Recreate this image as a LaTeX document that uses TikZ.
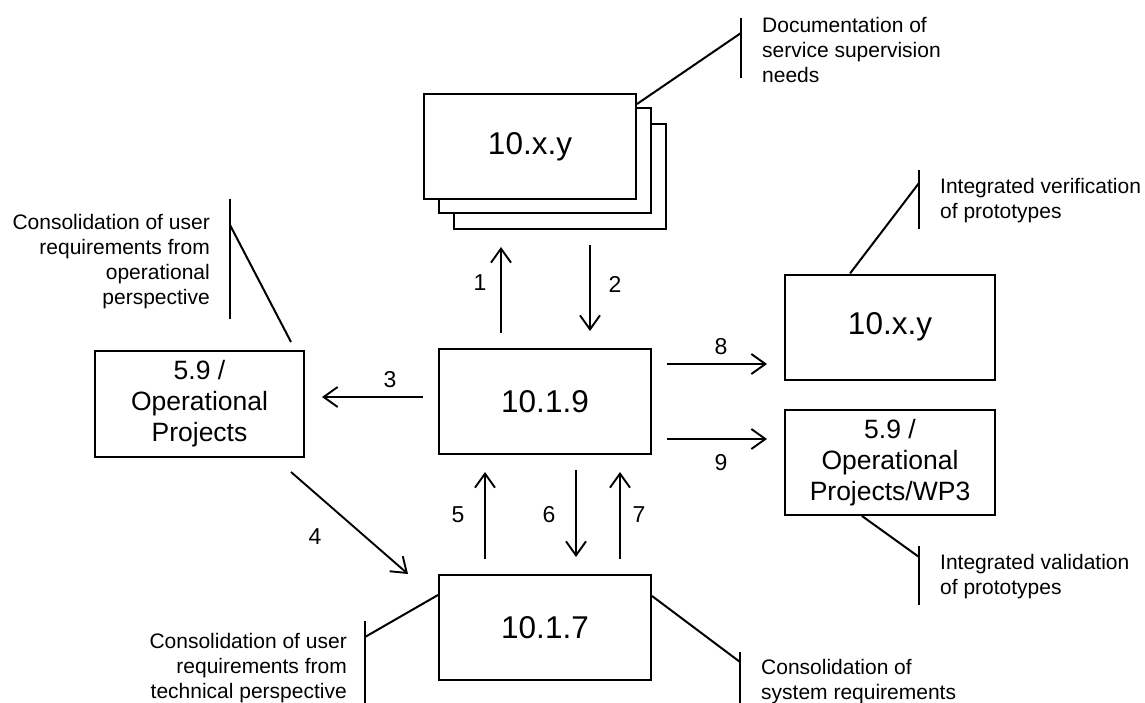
\documentclass[tikz,border=0pt]{standalone}
\usepackage{fontspec}
\setmainfont{Liberation Sans}
\usetikzlibrary{arrows.meta}

\begin{document}
\begin{tikzpicture}[x=1pt,y=-1pt,
    box/.style={draw, line width=2pt, fill=white, minimum width=212pt, minimum height=105pt,
        align=center, font=\fontsize{26.5}{31}\selectfont},
    bignum/.style={font=\fontsize{31.5}{36}\selectfont},
    flow/.style={line width=1.9pt, -{Straight Barb[length=14pt,width=20pt]}},
    gap/.style={shorten <=15pt, shorten >=17pt},
    num/.style={font=\fontsize{23}{26}\selectfont},
    note/.style={line width=2pt},
    notetext/.style={font=\fontsize{21}{25}\selectfont, inner sep=0pt}]
        \useasboundingbox (0,0) rectangle (1145,703);

        % Draw the stack of tasks
        \node[box] (stackC) at (560,176.5) {};
        \node[box] (stackB) at (545,161) {};
        \node[box, bignum] (stackA) at (530,146.5) {10.x.y};

        % Draw the work packages
        \node[box, bignum] (b109) at (545,401.5) {10.1.9};
        \node[box, bignum] (b107) at (545,627.5) {10.1.7};
        \node[box, minimum width=209pt, minimum height=106pt] (op) at (199.5,404) {5.9 /\\Operational\\Projects};
        \node[box, bignum, minimum width=210pt] (verify) at (890,327) {10.x.y};
        \node[box, minimum width=210pt] (valid) at (890,462.5) {5.9 /\\Operational\\Projects/WP3};

        % Draw the flows
        \draw[flow, gap] ([xshift=-44pt]b109.north) -- ([xshift=-59pt]stackC.south)
            node[num, midway, xshift=-21pt, yshift=6pt] (n1) {1};
        \draw[flow, gap] ([xshift=30pt]stackC.south) -- ([xshift=45pt]b109.north)
            node[num, midway, xshift=25pt, yshift=5pt] (n2) {2};
        \draw[flow, gap] ([yshift=4.5pt]b109.west) -- ([yshift=7pt]op.east)
            node[num, midway, xshift=18.5pt, yshift=17pt] (n3) {3};
        \draw[flow] ([xshift=-14pt,yshift=-14pt]op.south east) -- ([xshift=-30pt]b107.north west)
            node[num, midway, xshift=-34.5pt, yshift=-14pt] (n4) {4};
        \draw[flow, gap] ([xshift=-60pt]b107.north) -- ([xshift=-60pt]b109.south)
            node[num, midway, xshift=-27pt] (n5) {5};
        \draw[flow, gap] ([xshift=31pt]b109.south) -- ([xshift=31pt]b107.north)
            node[num, midway, xshift=-27pt] (n6) {6};
        \draw[flow, gap] ([xshift=75pt]b107.north) -- ([xshift=75pt]b109.south)
            node[num, midway, xshift=19pt] (n7) {7};
        \draw[flow, gap] ([yshift=37.5pt]b109.east) -- ([yshift=-37pt]verify.west)
            node[num, midway, xshift=3pt, yshift=17pt] (n8) {8};
        \draw[flow, gap] ([yshift=-37.5pt]b109.east) -- ([yshift=23.5pt]valid.west)
            node[num, midway, xshift=3pt, yshift=-24pt] (n9) {9};

        % Notes on the tasks
        \node[notetext, anchor=west, align=left] (docnote) at (762,50) {Documentation of\\service supervision\\needs};
        \coordinate (doctop) at (741,18);
        \coordinate (docbot) at (741,78);
        \coordinate (docjoin) at (741,33);
        \draw[note] (doctop) -- (docbot);
        \draw[note] ([yshift=-11pt]stackA.north east) -- (docjoin);

        \node[notetext, anchor=east, align=right] (opnote) at (210,262) {Consolidation of user\\requirements from\\operational\\perspective};
        \coordinate (optop) at (230,199);
        \coordinate (opbot) at (230,319);
        \coordinate (opjoin) at (230,225);
        \draw[note] (optop) -- (opbot);
        \draw[note] ([xshift=-14pt,yshift=8pt]op.north east) -- (opjoin);

        \node[notetext, anchor=west, align=left] (verifynote) at (940,201) {Integrated verification\\of prototypes};
        \coordinate (verifytop) at (919,170);
        \coordinate (verifybot) at (919,229);
        \coordinate (verifyjoin) at (919,183);
        \draw[note] (verifytop) -- (verifybot);
        \draw[note] ([xshift=-40pt]verify.north) -- (verifyjoin);

        \node[notetext, anchor=west, align=left] (validnote) at (940,577) {Integrated validation\\of prototypes};
        \coordinate (validtop) at (919,546);
        \coordinate (validbot) at (919,605);
        \coordinate (validjoin) at (919,557);
        \draw[note] (validtop) -- (validbot);
        \draw[note] ([xshift=-28pt]valid.south) -- (validjoin);

        \node[notetext, anchor=east, align=right] (technote) at (347,668) {Consolidation of user\\requirements from\\technical perspective};
        \coordinate (techtop) at (365,621);
        \coordinate (techbot) at (365,703);
        \coordinate (techjoin) at (365,637);
        \draw[note] (techtop) -- (techbot);
        \draw[note] ([yshift=-21pt]b107.north west) -- (techjoin);

        \node[notetext, anchor=west, align=left] (sysnote) at (761,682) {Consolidation of\\system requirements};
        \coordinate (systop) at (740,652);
        \coordinate (sysbot) at (740,703);
        \coordinate (sysjoin) at (740,662);
        \draw[note] (systop) -- (sysbot);
        \draw[note] ([yshift=-22pt]b107.north east) -- (sysjoin);
    \end{tikzpicture}
\end{document}
